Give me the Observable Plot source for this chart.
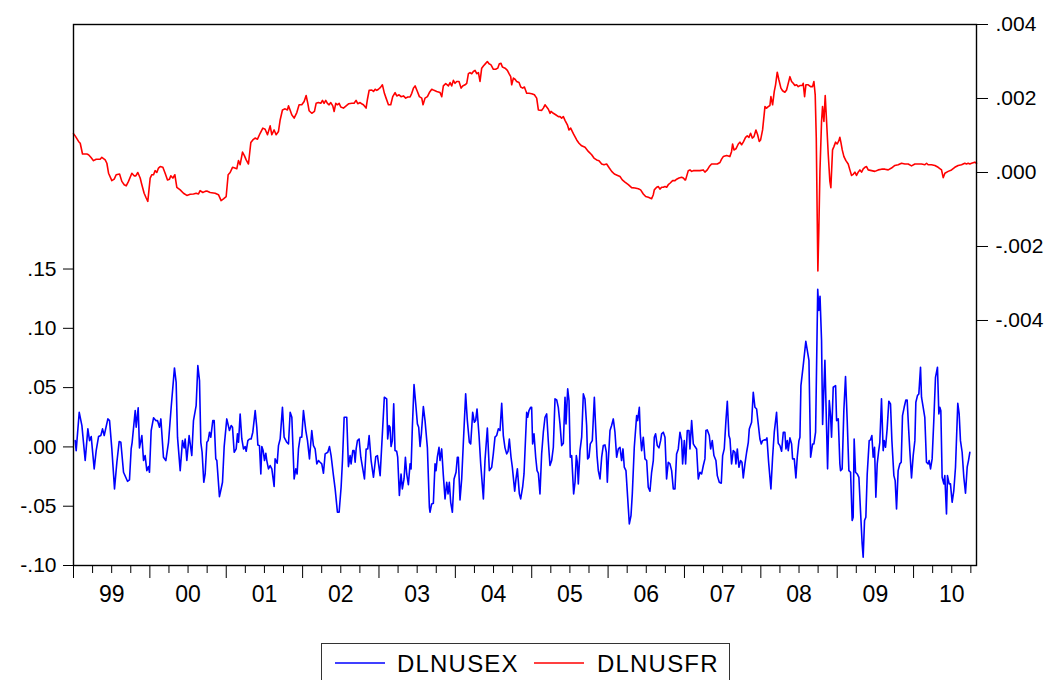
<!DOCTYPE html>
<html><head><meta charset="utf-8">
<script src="https://cdn.jsdelivr.net/npm/d3@7"></script>
<script src="https://cdn.jsdelivr.net/npm/@observablehq/plot@0.6"></script>
<style>
body{margin:0;background:#fff;font-family:"Liberation Sans",Arial,sans-serif;}
#chart{position:absolute;left:0;top:0;}
#legend{position:absolute;left:321px;top:643px;}
</style></head><body>
<div id="chart"></div>
<div id="legend"></div>
<script>
// ---- data (decimal year, value) ----
const dlnusex = [
[1999.022,0.0053],[1999.035,-0.0031],[1999.075,0.0292],[1999.110,0.0180],[1999.153,-0.0115],[1999.188,0.0152],[1999.210,0.0053],[1999.232,0.0087],[1999.271,-0.0185],[1999.297,-0.0031],[1999.328,0.0087],[1999.358,0.0096],[1999.380,0.0152],[1999.402,0.0096],[1999.450,0.0236],[1999.472,0.0222],[1999.502,-0.0017],[1999.537,-0.0354],[1999.568,-0.0129],[1999.598,0.0045],[1999.620,0.0039],[1999.655,-0.0214],[1999.707,-0.0290],[1999.733,-0.0278],[1999.755,-0.0017],[1999.768,0.0039],[1999.808,0.0306],[1999.821,0.0166],[1999.847,0.0329],[1999.864,-0.0008],[1999.895,0.0096],[1999.917,-0.0115],[1999.938,-0.0073],[1999.960,-0.0200],[1999.982,-0.0166],[1999.995,-0.0214],
[2000.017,0.0138],[2000.048,0.0245],[2000.078,0.0222],[2000.100,0.0222],[2000.126,0.0166],[2000.144,0.0236],[2000.178,-0.0087],[2000.209,-0.0115],[2000.244,0.0039],[2000.279,0.0334],[2000.322,0.0666],[2000.344,0.0545],[2000.362,0.0082],[2000.397,-0.0200],[2000.427,0.0053],[2000.449,-0.0008],[2000.462,0.0067],[2000.484,-0.0115],[2000.514,0.0096],[2000.549,-0.0073],[2000.571,0.0222],[2000.606,0.0349],[2000.628,0.0686],[2000.650,0.0559],[2000.667,0.0039],[2000.684,-0.0045],[2000.706,-0.0298],[2000.724,-0.0228],[2000.746,0.0039],[2000.763,0.0053],[2000.781,0.0124],[2000.798,0.0082],[2000.824,0.0222],[2000.842,0.0222],[2000.863,-0.0101],[2000.877,-0.0115],[2000.911,-0.0419],[2000.951,-0.0298],[2000.973,0.0003],
[2001.007,0.0236],[2001.042,0.0138],[2001.065,0.0180],[2001.082,0.0166],[2001.104,-0.0045],[2001.130,-0.0017],[2001.147,0.0110],[2001.161,0.0039],[2001.182,0.0278],[2001.204,0.0067],[2001.226,-0.0017],[2001.248,0.0003],[2001.261,-0.0037],[2001.283,0.0053],[2001.305,0.0067],[2001.326,0.0067],[2001.348,0.0124],[2001.379,0.0306],[2001.400,0.0166],[2001.414,0.0017],[2001.435,0.0011],[2001.453,-0.0228],[2001.466,0.0003],[2001.483,-0.0031],[2001.501,-0.0115],[2001.518,-0.0053],[2001.531,-0.0115],[2001.553,-0.0185],[2001.575,-0.0157],[2001.597,-0.0185],[2001.627,-0.0334],[2001.640,-0.0101],[2001.667,-0.0138],[2001.684,0.0011],[2001.706,0.0067],[2001.736,0.0334],[2001.758,0.0082],[2001.793,0.0039],[2001.815,0.0025],[2001.837,0.0292],[2001.859,0.0250],[2001.889,-0.0270],[2001.911,-0.0185],[2001.928,-0.0228],[2001.946,-0.0017],[2001.968,0.0082],[2001.989,0.0082],
[2002.011,0.0306],[2002.042,0.0138],[2002.064,0.0053],[2002.090,-0.0101],[2002.120,0.0138],[2002.142,0.0011],[2002.164,-0.0017],[2002.186,-0.0143],[2002.208,-0.0115],[2002.229,-0.0129],[2002.251,-0.0143],[2002.273,-0.0222],[2002.295,-0.0059],[2002.330,-0.0045],[2002.352,0.0003],[2002.373,-0.0073],[2002.404,-0.0242],[2002.426,-0.0354],[2002.456,-0.0551],[2002.478,-0.0551],[2002.504,-0.0340],[2002.522,-0.0115],[2002.544,0.0250],[2002.578,0.0250],[2002.600,-0.0166],[2002.622,-0.0073],[2002.635,-0.0143],[2002.657,-0.0031],[2002.674,-0.0031],[2002.688,-0.0129],[2002.701,-0.0017],[2002.718,0.0053],[2002.740,0.0067],[2002.762,-0.0087],[2002.784,-0.0171],[2002.810,-0.0270],[2002.832,-0.0017],[2002.853,-0.0017],[2002.871,0.0096],[2002.897,-0.0115],[2002.928,-0.0256],[2002.958,-0.0082],[2002.980,-0.0073],
[2003.015,-0.0242],[2003.070,0.0419],[2003.101,0.0405],[2003.114,0.0067],[2003.132,0.0180],[2003.145,0.0166],[2003.158,0.0003],[2003.175,0.0053],[2003.193,0.0363],[2003.210,-0.0031],[2003.232,-0.0037],[2003.245,-0.0087],[2003.267,-0.0410],[2003.289,-0.0228],[2003.306,-0.0354],[2003.328,-0.0270],[2003.346,-0.0087],[2003.363,-0.0228],[2003.385,-0.0318],[2003.407,-0.0143],[2003.420,-0.0185],[2003.437,0.0166],[2003.459,0.0526],[2003.485,0.0334],[2003.503,0.0194],[2003.520,0.0166],[2003.538,0.0003],[2003.555,0.0110],[2003.581,0.0340],[2003.603,0.0222],[2003.634,-0.0008],[2003.660,-0.0509],[2003.668,-0.0551],[2003.690,-0.0481],[2003.712,-0.0475],[2003.734,-0.0143],[2003.747,-0.0200],[2003.764,-0.0087],[2003.786,-0.0003],[2003.799,-0.0115],[2003.821,-0.0017],[2003.843,-0.0242],[2003.865,-0.0438],[2003.887,-0.0298],[2003.904,-0.0396],[2003.921,-0.0298],[2003.939,-0.0467],[2003.961,-0.0551],[2003.983,-0.0270],
[2004.009,-0.0214],[2004.026,-0.0087],[2004.039,-0.0087],[2004.061,-0.0447],[2004.083,-0.0270],[2004.105,0.0039],[2004.135,0.0447],[2004.157,0.0222],[2004.183,0.0039],[2004.201,0.0025],[2004.227,0.0292],[2004.249,0.0208],[2004.266,0.0222],[2004.284,0.0320],[2004.310,0.0096],[2004.332,-0.0143],[2004.367,-0.0438],[2004.388,-0.0115],[2004.419,0.0160],[2004.445,-0.0200],[2004.476,-0.0171],[2004.497,-0.0059],[2004.519,0.0082],[2004.541,0.0096],[2004.563,0.0152],[2004.585,0.0138],[2004.607,0.0368],[2004.628,0.0096],[2004.650,-0.0008],[2004.672,-0.0059],[2004.690,-0.0037],[2004.707,0.0067],[2004.729,-0.0087],[2004.746,-0.0171],[2004.777,-0.0374],[2004.794,-0.0270],[2004.812,-0.0185],[2004.838,-0.0396],[2004.855,-0.0438],[2004.881,-0.0340],[2004.899,-0.0228],[2004.934,0.0292],[2004.947,0.0250],[2004.964,0.0306],[2004.986,0.0334],[2004.999,0.0334],
[2005.012,0.0025],[2005.030,0.0110],[2005.052,-0.0087],[2005.070,-0.0200],[2005.087,-0.0222],[2005.108,-0.0396],[2005.130,-0.0059],[2005.152,0.0124],[2005.174,0.0250],[2005.196,0.0278],[2005.218,0.0039],[2005.239,-0.0157],[2005.261,-0.0115],[2005.283,-0.0003],[2005.305,0.0405],[2005.327,0.0396],[2005.348,0.0334],[2005.370,0.0194],[2005.392,0.0011],[2005.414,0.0031],[2005.436,0.0419],[2005.449,0.0194],[2005.471,0.0489],[2005.488,0.0391],[2005.505,-0.0087],[2005.523,-0.0073],[2005.549,-0.0396],[2005.567,-0.0298],[2005.584,-0.0073],[2005.597,-0.0129],[2005.610,-0.0312],[2005.632,-0.0031],[2005.654,0.0082],[2005.676,0.0447],[2005.697,0.0405],[2005.719,0.0180],[2005.732,-0.0101],[2005.750,-0.0087],[2005.767,0.0025],[2005.793,0.0053],[2005.820,0.0419],[2005.837,0.0166],[2005.855,-0.0073],[2005.872,-0.0200],[2005.894,-0.0270],[2005.916,-0.0087],[2005.937,0.0011],[2005.959,0.0017],[2005.977,-0.0045],[2005.990,-0.0298],
[2006.003,-0.0115],[2006.025,0.0138],[2006.046,0.0180],[2006.068,0.0236],[2006.090,0.0124],[2006.112,-0.0087],[2006.134,-0.0017],[2006.156,-0.0003],[2006.177,-0.0115],[2006.195,-0.0017],[2006.212,-0.0171],[2006.234,-0.0200],[2006.256,-0.0424],[2006.278,-0.0649],[2006.300,-0.0579],[2006.317,-0.0396],[2006.343,-0.0003],[2006.374,0.0264],[2006.387,0.0222],[2006.409,0.0334],[2006.422,0.0110],[2006.439,-0.0031],[2006.461,0.0082],[2006.483,-0.0101],[2006.505,-0.0115],[2006.526,-0.0340],[2006.548,-0.0374],[2006.570,-0.0214],[2006.592,-0.0115],[2006.605,0.0082],[2006.622,0.0110],[2006.644,0.0011],[2006.666,-0.0008],[2006.688,0.0053],[2006.701,0.0110],[2006.723,0.0124],[2006.745,0.0082],[2006.766,-0.0270],[2006.788,-0.0129],[2006.810,-0.0143],[2006.832,-0.0200],[2006.854,-0.0354],[2006.876,-0.0354],[2006.897,-0.0059],[2006.919,-0.0017],[2006.941,0.0124],[2006.963,0.0053],[2006.976,-0.0143],[2006.998,0.0053],
[2007.015,-0.0143],[2007.037,0.0138],[2007.059,0.0138],[2007.072,-0.0017],[2007.094,0.0222],[2007.116,0.0025],[2007.137,0.0003],[2007.159,-0.0017],[2007.181,-0.0270],[2007.203,-0.0214],[2007.225,-0.0228],[2007.247,-0.0157],[2007.268,-0.0101],[2007.281,0.0138],[2007.299,0.0143],[2007.325,0.0096],[2007.343,-0.0017],[2007.364,0.0053],[2007.386,-0.0073],[2007.412,-0.0115],[2007.430,-0.0242],[2007.456,-0.0298],[2007.482,-0.0306],[2007.500,-0.0073],[2007.521,-0.0017],[2007.543,0.0222],[2007.561,0.0385],[2007.582,0.0096],[2007.596,0.0067],[2007.617,-0.0143],[2007.639,-0.0031],[2007.661,-0.0045],[2007.674,-0.0143],[2007.692,-0.0017],[2007.713,-0.0171],[2007.735,-0.0115],[2007.753,-0.0129],[2007.770,-0.0261],[2007.792,-0.0143],[2007.814,-0.0045],[2007.836,0.0039],[2007.849,0.0152],[2007.879,0.0208],[2007.901,0.0461],[2007.923,0.0334],[2007.945,0.0320],[2007.966,0.0194],[2007.988,0.0067],
[2008.006,0.0025],[2008.023,0.0053],[2008.045,0.0059],[2008.067,0.0059],[2008.080,0.0076],[2008.102,-0.0129],[2008.132,-0.0354],[2008.154,-0.0087],[2008.176,0.0124],[2008.206,0.0292],[2008.228,0.0031],[2008.250,0.0011],[2008.272,-0.0037],[2008.294,0.0124],[2008.315,0.0124],[2008.329,-0.0017],[2008.346,0.0053],[2008.359,-0.0031],[2008.381,0.0076],[2008.403,0.0025],[2008.416,-0.0101],[2008.438,-0.0101],[2008.459,-0.0261],[2008.477,-0.0087],[2008.499,0.0053],[2008.512,0.0082],[2008.525,0.0517],[2008.555,0.0686],[2008.589,0.0890],[2008.630,0.0730],[2008.652,-0.0087],[2008.678,0.0025],[2008.695,0.0025],[2008.717,0.0124],[2008.745,0.1330],[2008.760,0.1150],[2008.775,0.1270],[2008.795,0.0900],[2008.809,0.0190],[2008.839,0.0730],[2008.874,-0.0185],[2008.896,0.0390],[2008.913,0.0264],[2008.926,0.0082],[2008.948,0.0503],[2008.979,0.0517],[2008.992,0.0222],
[2009.014,0.0236],[2009.035,-0.0143],[2009.044,-0.0200],[2009.065,-0.0185],[2009.087,0.0306],[2009.109,0.0593],[2009.131,0.0222],[2009.153,-0.0200],[2009.175,-0.0214],[2009.196,-0.0621],[2009.209,-0.0593],[2009.222,0.0067],[2009.240,-0.0214],[2009.262,-0.0228],[2009.284,-0.0256],[2009.305,-0.0537],[2009.327,-0.0818],[2009.340,-0.0930],[2009.358,-0.0621],[2009.375,-0.0593],[2009.393,-0.0228],[2009.419,0.0053],[2009.436,0.0059],[2009.454,0.0096],[2009.471,-0.0087],[2009.489,-0.0003],[2009.506,-0.0424],[2009.524,-0.0143],[2009.541,-0.0045],[2009.558,0.0039],[2009.580,0.0405],[2009.602,-0.0031],[2009.615,0.0053],[2009.633,-0.0003],[2009.654,0.0152],[2009.676,0.0385],[2009.698,0.0363],[2009.716,0.0053],[2009.742,-0.0242],[2009.759,-0.0284],[2009.777,-0.0523],[2009.798,-0.0200],[2009.820,-0.0143],[2009.838,-0.0129],[2009.855,0.0264],[2009.877,0.0334],[2009.899,0.0396],[2009.916,0.0396],[2009.934,0.0166],[2009.951,-0.0031],[2009.973,-0.0261],[2009.995,-0.0073],
[2010.017,0.0053],[2010.030,0.0377],[2010.051,0.0433],[2010.069,0.0447],[2010.091,0.0672],[2010.104,0.0419],[2010.126,0.0334],[2010.147,0.0250],[2010.169,-0.0129],[2010.191,-0.0143],[2010.204,-0.0115],[2010.222,-0.0185],[2010.243,-0.0101],[2010.265,0.0222],[2010.287,0.0587],[2010.313,0.0672],[2010.331,0.0278],[2010.344,0.0334],[2010.357,0.0306],[2010.374,-0.0256],[2010.396,-0.0312],[2010.409,-0.0242],[2010.431,-0.0565],[2010.444,-0.0242],[2010.466,-0.0312],[2010.483,-0.0312],[2010.505,-0.0467],[2010.527,-0.0368],[2010.549,-0.0171],[2010.579,0.0368],[2010.597,0.0278],[2010.614,0.0053],[2010.636,-0.0045],[2010.658,-0.0256],[2010.680,-0.0391],[2010.702,-0.0171],[2010.719,-0.0115],[2010.737,-0.0045]
];
const dlnusfr = [
[1999.000,0.00105],[1999.022,0.00099],[1999.066,0.00084],[1999.088,0.00079],[1999.118,0.00050],[1999.175,0.00050],[1999.197,0.00048],[1999.227,0.00041],[1999.262,0.00032],[1999.297,0.00036],[1999.349,0.00036],[1999.371,0.00041],[1999.415,0.00034],[1999.437,0.00025],[1999.459,-0.00002],[1999.502,-0.00022],[1999.533,-0.00018],[1999.559,-0.00006],[1999.603,-0.00004],[1999.633,-0.00024],[1999.664,-0.00033],[1999.690,-0.00036],[1999.720,-0.00024],[1999.764,-0.00002],[1999.794,-0.00009],[1999.816,-0.00009],[1999.842,0.00000],[1999.873,-0.00015],[1999.895,-0.00033],[1999.925,-0.00056],[1999.952,-0.00069],[1999.973,-0.00078],
[2000.004,-0.00015],[2000.026,-0.00006],[2000.048,-0.00006],[2000.069,0.00005],[2000.091,0.00000],[2000.113,0.00012],[2000.135,0.00016],[2000.170,0.00014],[2000.200,-0.00002],[2000.231,-0.00020],[2000.257,-0.00018],[2000.274,-0.00009],[2000.301,-0.00015],[2000.327,-0.00006],[2000.353,-0.00040],[2000.397,-0.00047],[2000.440,-0.00056],[2000.484,-0.00062],[2000.528,-0.00059],[2000.571,-0.00058],[2000.606,-0.00056],[2000.637,-0.00058],[2000.658,-0.00049],[2000.693,-0.00054],[2000.724,-0.00051],[2000.746,-0.00050],[2000.789,-0.00054],[2000.855,-0.00056],[2000.898,-0.00060],[2000.933,-0.00076],[2000.964,-0.00071],[2000.999,-0.00065],
[2001.025,-0.00006],[2001.051,0.00000],[2001.082,0.00014],[2001.112,0.00012],[2001.138,0.00010],[2001.160,0.00032],[2001.182,0.00021],[2001.213,0.00055],[2001.239,0.00045],[2001.261,0.00034],[2001.291,0.00023],[2001.322,0.00081],[2001.348,0.00088],[2001.378,0.00093],[2001.409,0.00090],[2001.444,0.00106],[2001.479,0.00120],[2001.509,0.00117],[2001.540,0.00102],[2001.575,0.00126],[2001.597,0.00102],[2001.627,0.00115],[2001.653,0.00102],[2001.684,0.00111],[2001.706,0.00142],[2001.736,0.00169],[2001.771,0.00172],[2001.801,0.00169],[2001.815,0.00180],[2001.836,0.00169],[2001.858,0.00156],[2001.889,0.00147],[2001.924,0.00162],[2001.954,0.00183],[2001.989,0.00183],
[2002.020,0.00192],[2002.046,0.00208],[2002.068,0.00187],[2002.085,0.00167],[2002.120,0.00160],[2002.155,0.00165],[2002.177,0.00187],[2002.207,0.00189],[2002.238,0.00187],[2002.260,0.00195],[2002.281,0.00187],[2002.303,0.00195],[2002.325,0.00187],[2002.347,0.00183],[2002.369,0.00189],[2002.395,0.00180],[2002.413,0.00165],[2002.434,0.00187],[2002.456,0.00183],[2002.478,0.00187],[2002.500,0.00177],[2002.535,0.00174],[2002.570,0.00180],[2002.605,0.00186],[2002.644,0.00187],[2002.674,0.00187],[2002.700,0.00195],[2002.722,0.00186],[2002.753,0.00189],[2002.779,0.00185],[2002.796,0.00183],[2002.831,0.00174],[2002.849,0.00198],[2002.871,0.00222],[2002.906,0.00223],[2002.928,0.00219],[2002.950,0.00225],[2002.971,0.00222],[2002.993,0.00225],
[2003.020,0.00230],[2003.045,0.00237],[2003.071,0.00214],[2003.093,0.00201],[2003.124,0.00183],[2003.154,0.00183],[2003.180,0.00205],[2003.211,0.00216],[2003.233,0.00207],[2003.263,0.00210],[2003.289,0.00205],[2003.320,0.00207],[2003.350,0.00201],[2003.377,0.00204],[2003.407,0.00204],[2003.429,0.00214],[2003.451,0.00228],[2003.473,0.00234],[2003.503,0.00219],[2003.529,0.00205],[2003.560,0.00201],[2003.577,0.00183],[2003.603,0.00201],[2003.634,0.00205],[2003.660,0.00216],[2003.691,0.00225],[2003.721,0.00222],[2003.756,0.00219],[2003.800,0.00216],[2003.822,0.00205],[2003.843,0.00234],[2003.874,0.00240],[2003.909,0.00234],[2003.931,0.00243],[2003.952,0.00234],[2003.974,0.00249],[2003.996,0.00241],
[2004.018,0.00246],[2004.048,0.00246],[2004.075,0.00228],[2004.096,0.00234],[2004.127,0.00237],[2004.149,0.00241],[2004.171,0.00267],[2004.192,0.00270],[2004.214,0.00267],[2004.236,0.00273],[2004.258,0.00276],[2004.280,0.00267],[2004.302,0.00270],[2004.323,0.00246],[2004.345,0.00282],[2004.367,0.00288],[2004.389,0.00293],[2004.419,0.00300],[2004.441,0.00294],[2004.467,0.00291],[2004.498,0.00279],[2004.528,0.00279],[2004.555,0.00282],[2004.576,0.00294],[2004.598,0.00295],[2004.616,0.00285],[2004.651,0.00282],[2004.681,0.00276],[2004.703,0.00267],[2004.725,0.00259],[2004.738,0.00237],[2004.760,0.00255],[2004.781,0.00252],[2004.803,0.00246],[2004.834,0.00243],[2004.856,0.00231],[2004.882,0.00228],[2004.904,0.00231],[2004.934,0.00214],[2004.965,0.00214],
[2005.000,0.00213],[2005.035,0.00210],[2005.065,0.00201],[2005.087,0.00169],[2005.131,0.00168],[2005.152,0.00174],[2005.174,0.00183],[2005.196,0.00177],[2005.218,0.00171],[2005.240,0.00160],[2005.253,0.00165],[2005.283,0.00160],[2005.314,0.00156],[2005.349,0.00151],[2005.371,0.00151],[2005.392,0.00147],[2005.414,0.00151],[2005.436,0.00141],[2005.467,0.00129],[2005.488,0.00115],[2005.510,0.00120],[2005.545,0.00105],[2005.589,0.00088],[2005.619,0.00079],[2005.654,0.00072],[2005.698,0.00068],[2005.741,0.00057],[2005.785,0.00048],[2005.815,0.00039],[2005.850,0.00034],[2005.881,0.00032],[2005.916,0.00023],[2005.946,0.00021],[2005.981,0.00023],
[2006.016,0.00012],[2006.047,0.00003],[2006.082,-0.00004],[2006.125,-0.00008],[2006.156,-0.00011],[2006.186,-0.00020],[2006.221,-0.00026],[2006.265,-0.00033],[2006.308,-0.00041],[2006.352,-0.00042],[2006.396,-0.00044],[2006.426,-0.00047],[2006.461,-0.00058],[2006.492,-0.00065],[2006.527,-0.00067],[2006.570,-0.00071],[2006.592,-0.00060],[2006.605,-0.00047],[2006.636,-0.00040],[2006.658,-0.00038],[2006.679,-0.00045],[2006.701,-0.00040],[2006.723,-0.00040],[2006.745,-0.00038],[2006.767,-0.00040],[2006.788,-0.00033],[2006.810,-0.00029],[2006.845,-0.00022],[2006.876,-0.00022],[2006.898,-0.00018],[2006.928,-0.00015],[2006.963,-0.00013],[2006.985,-0.00015],
[2007.007,-0.00020],[2007.015,-0.00020],[2007.050,0.00005],[2007.072,0.00007],[2007.094,0.00003],[2007.116,0.00005],[2007.159,0.00005],[2007.203,0.00005],[2007.246,0.00007],[2007.268,0.00001],[2007.299,0.00007],[2007.325,0.00016],[2007.355,0.00023],[2007.399,0.00023],[2007.430,0.00023],[2007.465,0.00027],[2007.486,0.00036],[2007.508,0.00043],[2007.552,0.00046],[2007.595,0.00043],[2007.617,0.00057],[2007.630,0.00077],[2007.648,0.00061],[2007.674,0.00064],[2007.705,0.00077],[2007.726,0.00082],[2007.748,0.00075],[2007.770,0.00082],[2007.800,0.00095],[2007.822,0.00099],[2007.844,0.00095],[2007.866,0.00106],[2007.888,0.00093],[2007.910,0.00097],[2007.936,0.00115],[2007.958,0.00102],[2007.979,0.00084],[2007.997,0.00088],
[2008.023,0.00115],[2008.054,0.00178],[2008.075,0.00174],[2008.097,0.00178],[2008.119,0.00181],[2008.132,0.00205],[2008.154,0.00183],[2008.176,0.00219],[2008.193,0.00237],[2008.215,0.00271],[2008.237,0.00250],[2008.263,0.00228],[2008.285,0.00221],[2008.315,0.00217],[2008.337,0.00223],[2008.359,0.00241],[2008.381,0.00259],[2008.403,0.00246],[2008.424,0.00241],[2008.446,0.00235],[2008.468,0.00237],[2008.490,0.00232],[2008.512,0.00235],[2008.542,0.00235],[2008.555,0.00241],[2008.573,0.00205],[2008.590,0.00237],[2008.621,0.00237],[2008.651,0.00232],[2008.677,0.00232],[2008.695,0.00246],[2008.712,0.00210],[2008.726,0.00093],[2008.739,-0.00132],[2008.747,-0.00266],[2008.760,-0.00150],[2008.774,0.00003],[2008.795,0.00138],[2008.808,0.00178],[2008.826,0.00138],[2008.843,0.00208],[2008.861,0.00138],[2008.883,0.00048],[2008.904,-0.00024],[2008.917,-0.00041],[2008.939,0.00061],[2008.957,0.00070],[2008.979,0.00082],
[2009.000,0.00077],[2009.022,0.00086],[2009.035,0.00095],[2009.048,0.00082],[2009.066,0.00061],[2009.088,0.00043],[2009.114,0.00032],[2009.144,0.00023],[2009.166,0.00007],[2009.188,-0.00008],[2009.210,-0.00005],[2009.232,0.00001],[2009.253,-0.00008],[2009.275,0.00001],[2009.297,0.00007],[2009.319,0.00001],[2009.341,0.00010],[2009.363,0.00014],[2009.384,0.00016],[2009.406,0.00007],[2009.450,0.00005],[2009.493,0.00003],[2009.537,0.00007],[2009.581,0.00009],[2009.624,0.00009],[2009.668,0.00007],[2009.711,0.00012],[2009.755,0.00019],[2009.799,0.00021],[2009.842,0.00025],[2009.886,0.00023],[2009.930,0.00023],[2009.973,0.00018],
[2010.017,0.00023],[2010.061,0.00023],[2010.104,0.00023],[2010.148,0.00021],[2010.170,0.00025],[2010.191,0.00021],[2010.235,0.00021],[2010.279,0.00019],[2010.322,0.00014],[2010.366,0.00007],[2010.388,-0.00014],[2010.410,-0.00002],[2010.453,0.00003],[2010.497,0.00007],[2010.540,0.00014],[2010.584,0.00019],[2010.628,0.00021],[2010.671,0.00025],[2010.693,0.00023],[2010.715,0.00025],[2010.737,0.00023],[2010.759,0.00025],[2010.802,0.00028],[2010.824,0.00025]
];
const leftTicks = [-0.10, -0.05, 0, 0.05, 0.10, 0.15];
const leftLabels = ["-.10", "-.05", ".00", ".05", ".10", ".15"];
const rightTicks = [-0.004, -0.002, 0, 0.002, 0.004];
const rightLabels = ["-.004", "-.002", ".000", ".002", ".004"];
const years = [1999, 2000, 2001, 2002, 2003, 2004, 2005, 2006, 2007, 2008, 2009, 2010];
const yearLabels = ["99", "00", "01", "02", "03", "04", "05", "06", "07", "08", "09", "10"];
const seriesNames = ["DLNUSEX", "DLNUSFR"];
const seriesColors = ["#0000ff", "#ff0000"];

// ---- scales ----
const xDomain = [1999, 2010.824];
const leftDomain = [-0.10, 0.3562];
const rightDomain = [-0.010622, 0.004];
const toLeft = r => leftDomain[0] + (r - rightDomain[0]) / (rightDomain[1] - rightDomain[0]) * (leftDomain[1] - leftDomain[0]);

const ex = dlnusex.map(([t, v]) => ({t, v}));
const fr = dlnusfr.map(([t, v]) => ({t, v: toLeft(v)}));
const rightTicksL = rightTicks.map(toLeft);
const quarters = years.flatMap(y => [y + 0.25, y + 0.5, y + 0.75]).filter(q => q < xDomain[1]);
const mids = years.map(y => y + 0.5);

const chart = Plot.plot({
  width: 1056,
  height: 630,
  marginLeft: 73,
  marginRight: 80,
  marginTop: 24,
  marginBottom: 65,
  x: {domain: xDomain},
  y: {domain: leftDomain},
  style: {fontFamily: "'Liberation Sans', Arial, sans-serif", fontSize: "21px", color: "#000", background: "#fff", overflow: "visible"},
  marks: [
    Plot.axisY(leftTicks, {anchor: "left", tickSize: 10, tickPadding: 7, tickFormat: d => leftLabels[leftTicks.indexOf(d)], label: null}),
    Plot.axisY(rightTicksL, {anchor: "right", tickSize: 11, tickPadding: 8, tickFormat: d => rightLabels[rightTicksL.indexOf(d)], label: null}),
    Plot.axisX(years, {anchor: "bottom", tickSize: 13, tickFormat: () => "", label: null}),
    Plot.axisX(quarters, {anchor: "bottom", tickSize: 8, tickFormat: () => "", label: null}),
    Plot.axisX(mids, {anchor: "bottom", tickSize: 0, tickPadding: 20, tickFormat: d => yearLabels[mids.indexOf(d)], label: null, fontSize: 23}),
    Plot.line(ex, {x: "t", y: "v", stroke: seriesColors[0], strokeWidth: 1.6}),
    Plot.line(fr, {x: "t", y: "v", stroke: seriesColors[1], strokeWidth: 1.6}),
    Plot.frame({stroke: "#000", strokeWidth: 1.4})
  ]
});
document.getElementById("chart").appendChild(chart);

// ---- legend (below the chart) ----
const lg = d3.select("#legend").append("svg").attr("width", 410).attr("height", 40);
lg.append("rect").attr("x", 0.5).attr("y", 0.5).attr("width", 408).attr("height", 60).attr("fill", "none").attr("stroke", "#333").attr("stroke-width", 1);
const items = [{x0: 14, tx: 76}, {x0: 213, tx: 276}];
items.forEach((it, i) => {
  lg.append("line").attr("x1", it.x0).attr("x2", it.x0 + 50).attr("y1", 20).attr("y2", 20).attr("stroke", seriesColors[i]).attr("stroke-width", 1.5);
  lg.append("text").attr("x", it.tx).attr("y", 28.5).attr("font-family", "'Liberation Sans', Arial, sans-serif").attr("font-size", 24).attr("letter-spacing", 1.2).attr("fill", "#000").text(seriesNames[i]);
});
</script>
</body></html>
